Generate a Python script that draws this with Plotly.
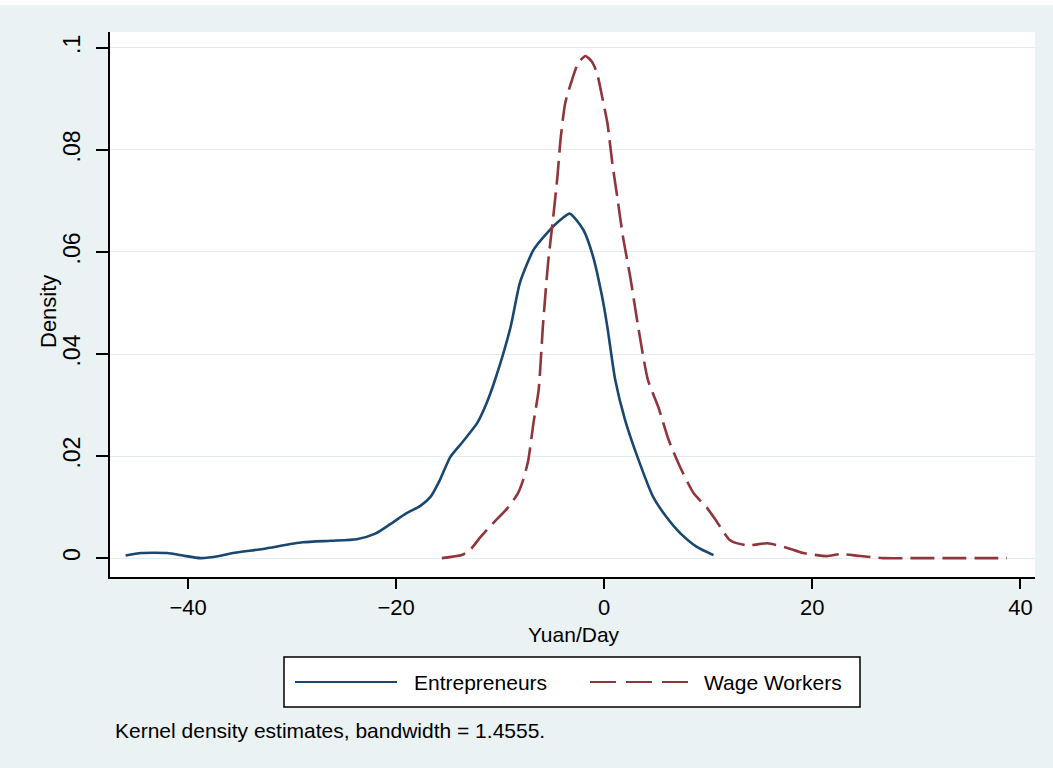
import plotly.graph_objects as go

# ---- data ----
ent_x = [-46, -44.5, -42, -40.5, -38.8, -37, -35.7, -32.8, -29, -26.3, -23.8, -22, -20.6, -19,
         -17.7, -16.7, -15.8, -14.8, -13.6, -12.2, -11.3, -10.5, -9.0, -8.1, -6.8, -5.5, -4.2,
         -3.3, -2.0, -1.06, -0.2, 0.3, 1.06, 2.0, 3.2, 4.7, 6.0, 7.3, 8.9, 10.5]
ent_y = [0.0005, 0.001, 0.001, 0.0005, 0.0, 0.0004, 0.001, 0.0018, 0.0031, 0.0034, 0.0037, 0.0048,
         0.0066, 0.0088, 0.0102, 0.012, 0.0153, 0.0198, 0.0228, 0.0265, 0.0304, 0.0349, 0.0453,
         0.054, 0.0604, 0.0637, 0.0663, 0.0675, 0.0643, 0.059, 0.0512, 0.0453, 0.0349, 0.0271,
         0.0198, 0.012, 0.008, 0.0049, 0.0022, 0.0006]

wage_x = [-15.6, -13.7, -12.9, -11.9, -10.7, -9.3, -8.3, -7.8, -7.3, -6.8, -6.3, -5.9, -5.4, -4.9,
          -4.5, -4.2, -3.75, -3.1, -2.5, -1.8, -1.2, -0.7, -0.2, 0.3, 0.77, 1.25, 1.8, 2.5, 3.2,
          4.2, 5.2, 6.2, 7.3, 8.6, 9.9, 10.9, 12.1, 13.7, 15.7, 17.6, 19.1, 21.4, 22.7, 24.6,
          26.8, 30, 33.3, 36.5, 38.7]
wage_y = [0.0, 0.0006, 0.0016, 0.0041, 0.0068, 0.0098, 0.0127, 0.0153, 0.0192, 0.0265, 0.033,
          0.0453, 0.0578, 0.0669, 0.0747, 0.082, 0.0892, 0.0937, 0.097, 0.0984, 0.0973, 0.0951,
          0.0904, 0.0853, 0.0775, 0.0708, 0.063, 0.0551, 0.0461, 0.0349, 0.0296, 0.0231, 0.0178,
          0.0127, 0.0098, 0.0069, 0.0035, 0.0025, 0.0029, 0.002, 0.001, 0.0004, 0.0008, 0.0004,
          0.0, 0.0, 0.0, 0.0, 0.0]

series_names = ["Entrepreneurs", "Wage Workers"]
x_ticks = [-40, -20, 0, 20, 40]
y_ticks = [0, 0.02, 0.04, 0.06, 0.08, 0.1]
y_ticktext = ["0", ".02", ".04", ".06", ".08", ".1"]
x_title = "Yuan/Day"
y_title = "Density"
note = "Kernel density estimates, bandwidth = 1.4555."

# ---- style / layout ----
BLUE = "#1a476f"
RED = "#90353b"
BG = "#EAF2F3"
FONT = "Liberation Sans, Arial, sans-serif"
W, H = 1053, 768
L, R, T, B = 110, 18, 32, 191
PW, PH = W - L - R, H - T - B


def px(xp):
    return (xp - L) / PW


def py(yp):
    return (H - B - yp) / PH


fig = go.Figure()
fig.add_trace(go.Scatter(x=ent_x, y=ent_y, mode="lines", name=series_names[0],
                         line=dict(color=BLUE, width=2.6, shape="spline", smoothing=0.6),
                         showlegend=False))
fig.add_trace(go.Scatter(x=wage_x, y=wage_y, mode="lines", name=series_names[1],
                         line=dict(color=RED, width=2.6, dash="24px,8px", shape="spline", smoothing=0.6),
                         showlegend=False))

shapes = [
    # thin white strip along top edge
    dict(type="rect", xref="paper", yref="paper", x0=px(0), x1=px(W), y0=py(5), y1=py(0),
         fillcolor="white", line=dict(width=0), layer="below"),
    # legend box
    dict(type="rect", xref="paper", yref="paper", x0=px(284), x1=px(860), y0=py(707), y1=py(657),
         fillcolor="white", line=dict(color="black", width=1.5)),
    dict(type="line", xref="paper", yref="paper", x0=px(295), x1=px(397), y0=py(682), y1=py(682),
         line=dict(color=BLUE, width=2)),
    dict(type="line", xref="paper", yref="paper", x0=px(590), x1=px(690), y0=py(682), y1=py(682),
         line=dict(color=RED, width=2, dash="26px,10px")),
]

annotations = [
    dict(text=series_names[0], xref="paper", yref="paper", x=px(412), y=py(682),
         xanchor="left", yanchor="middle", showarrow=False, font=dict(size=21)),
    dict(text=series_names[1], xref="paper", yref="paper", x=px(702), y=py(682),
         xanchor="left", yanchor="middle", showarrow=False, font=dict(size=21)),
    dict(text=note, xref="paper", yref="paper", x=px(113), y=py(730),
         xanchor="left", yanchor="middle", showarrow=False, font=dict(size=21)),
    dict(text=x_title, xref="paper", yref="paper", x=px(574), y=py(634),
         xanchor="center", yanchor="middle", showarrow=False, font=dict(size=21)),
    dict(text=y_title, xref="paper", yref="paper", x=px(48), y=py(312), textangle=-90,
         xanchor="center", yanchor="middle", showarrow=False, font=dict(size=22)),
]

fig.update_layout(
    width=W, height=H,
    margin=dict(l=L, r=R, t=T, b=B, pad=0),
    paper_bgcolor=BG, plot_bgcolor="white",
    font=dict(family=FONT, color="black", size=20),
    shapes=shapes, annotations=annotations,
    showlegend=False,
)
fig.update_xaxes(range=[-47.5, 41.4], tickvals=x_ticks, showgrid=False, zeroline=False,
                 showline=True, linecolor="black", linewidth=2,
                 ticks="outside", ticklen=10, tickwidth=1.5, tickcolor="black",
                 tickfont=dict(size=22), ticklabelstandoff=0)
fig.update_yaxes(range=[-0.0037, 0.1031], tickvals=y_ticks, ticktext=y_ticktext,
                 showgrid=True, gridcolor="#E3ECEF", gridwidth=1, zeroline=False,
                 showline=True, linecolor="black", linewidth=2,
                 ticks="outside", ticklen=12, tickwidth=1.5, tickcolor="black",
                 tickangle=-90, tickfont=dict(size=23), ticklabelstandoff=7)

fig.write_html("out.html")
